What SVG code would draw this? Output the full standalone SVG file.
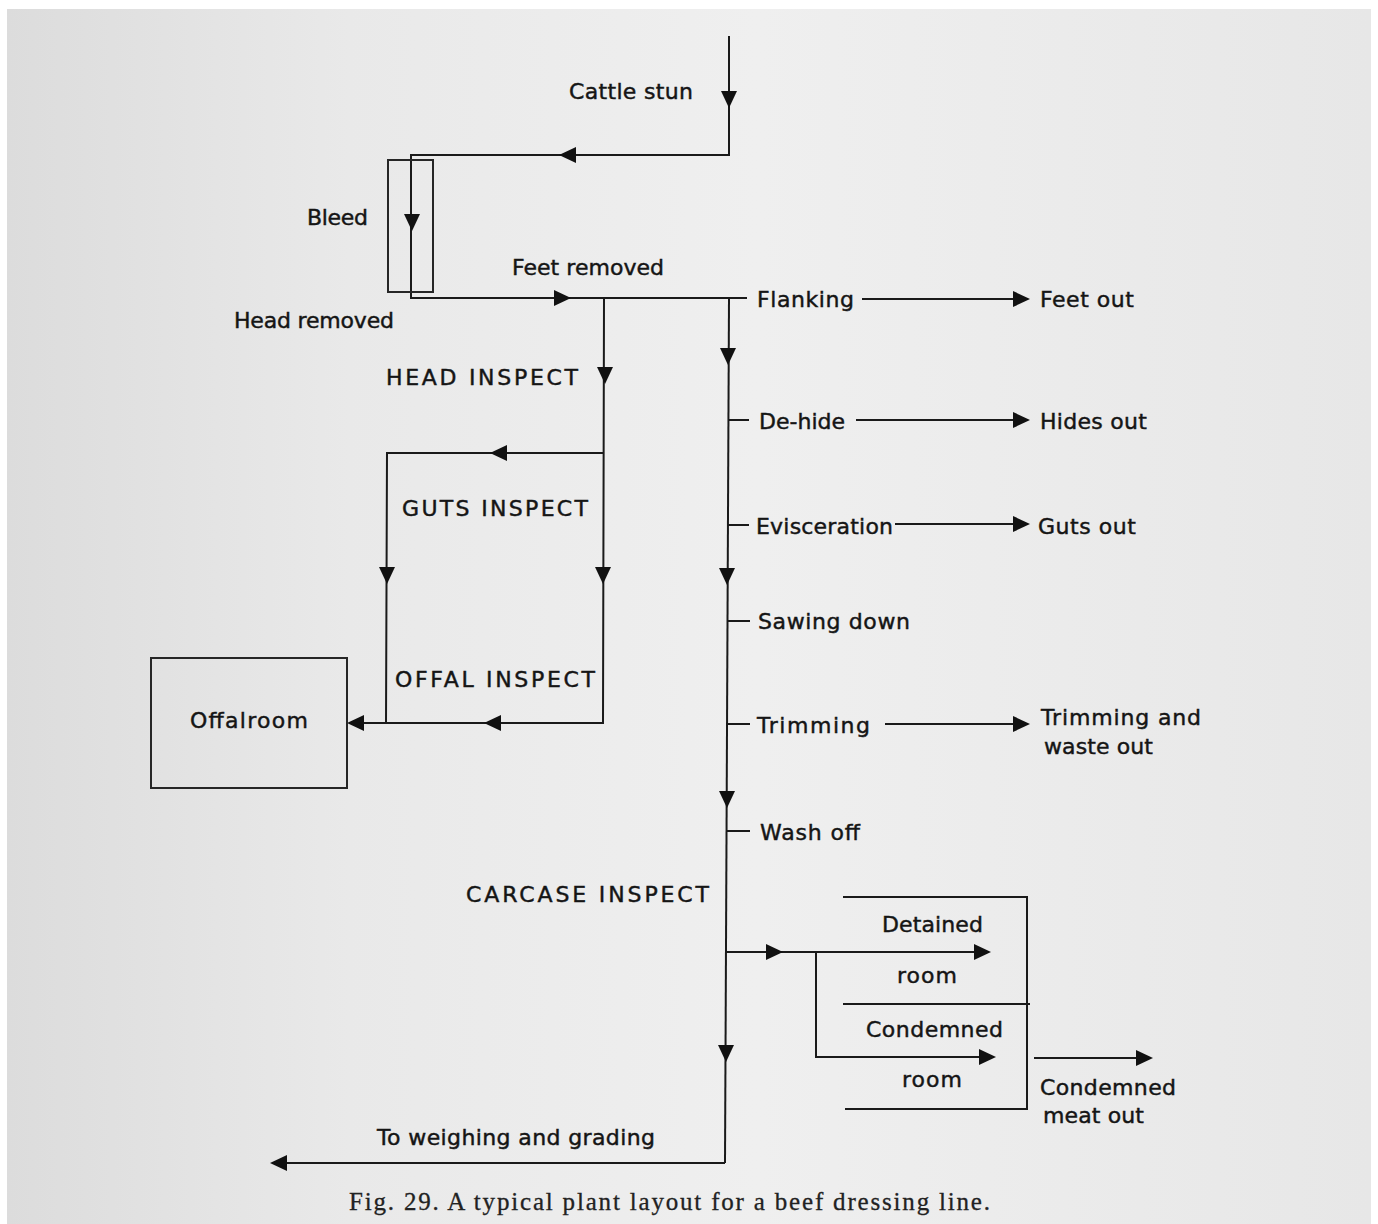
<svg xmlns="http://www.w3.org/2000/svg" xmlns:xlink="http://www.w3.org/1999/xlink" width="1378" height="1224" viewBox="0 0 1378 1224">
<style>
.t{font-family:"DejaVu Sans","Liberation Sans",sans-serif;font-size:22px;fill:#151515;stroke:#151515;stroke-width:0.45}
.cap{font-family:"DejaVu Sans","Liberation Sans",sans-serif;font-size:22px;fill:#151515;stroke:#151515;stroke-width:0.45}
.cap2{font-family:"Liberation Serif",serif;font-size:25px;fill:#222;stroke:#222;stroke-width:0.3}
.ln{stroke:#1a1a1a;stroke-width:2;fill:none}
.box{stroke:#262626;stroke-width:2;fill:none}
.ah{fill:#111}
</style>
<defs>
<linearGradient id="pg" x1="0" y1="0" x2="1" y2="0">
<stop offset="0" stop-color="#dcdcdc"/>
<stop offset="0.25" stop-color="#e9e9e9"/>
<stop offset="0.55" stop-color="#efefef"/>
<stop offset="1" stop-color="#e7e7e7"/>
</linearGradient>
<path id="ah" class="ah" d="M0,0 L-17,-8 L-17,8 Z"/>
</defs>
<rect x="0" y="0" width="1378" height="1224" fill="#ffffff"/>
<rect x="7" y="9" width="1364" height="1215" fill="url(#pg)"/>

<g id="connectors">
<polyline class="ln" points="729,36 729,155 411,155 411,298 747,298"/>
<rect class="box" x="388" y="160" width="45" height="132"/>
<line class="ln" x1="729" y1="298" x2="725" y2="1163"/>
<polyline class="ln" points="725,1163 272,1163"/>
<line class="ln" x1="728" y1="420" x2="749" y2="420"/>
<line class="ln" x1="728" y1="525" x2="749" y2="525"/>
<line class="ln" x1="727" y1="621" x2="750" y2="621"/>
<line class="ln" x1="727" y1="724" x2="750" y2="724"/>
<line class="ln" x1="727" y1="831" x2="750" y2="831"/>
<line class="ln" x1="862" y1="299" x2="1020" y2="299"/>
<line class="ln" x1="856" y1="420" x2="1020" y2="420"/>
<line class="ln" x1="895" y1="524" x2="1020" y2="524"/>
<line class="ln" x1="885" y1="724" x2="1020" y2="724"/>
<polyline class="ln" points="604,298 603,723 349,723"/>
<polyline class="ln" points="603,453 387,453 386,723"/>
<line class="ln" x1="725" y1="952" x2="982" y2="952"/>
<polyline class="ln" points="816,952 816,1057 987,1057"/>
<polyline class="ln" points="843,897 1027,897 1027,1109 845,1109"/>
<line class="ln" x1="843" y1="1004" x2="1030" y2="1004"/>
<line class="ln" x1="1034" y1="1058" x2="1144" y2="1058"/>

<use href="#ah" transform="translate(729,108) rotate(90)"/>
<use href="#ah" transform="translate(559,155) rotate(180)"/>
<use href="#ah" transform="translate(412,231) rotate(90)"/>
<use href="#ah" transform="translate(571,298)"/>
<use href="#ah" transform="translate(605,384) rotate(90)"/>
<use href="#ah" transform="translate(728,365) rotate(90)"/>
<use href="#ah" transform="translate(1030,299)"/>
<use href="#ah" transform="translate(1030,420)"/>
<use href="#ah" transform="translate(1030,524)"/>
<use href="#ah" transform="translate(1030,724)"/>
<use href="#ah" transform="translate(490,453) rotate(180)"/>
<use href="#ah" transform="translate(387,584) rotate(90)"/>
<use href="#ah" transform="translate(603,584) rotate(90)"/>
<use href="#ah" transform="translate(484,723) rotate(180)"/>
<use href="#ah" transform="translate(347,723) rotate(180)"/>
<use href="#ah" transform="translate(727,585) rotate(90)"/>
<use href="#ah" transform="translate(727,808) rotate(90)"/>
<use href="#ah" transform="translate(726,1062) rotate(90)"/>
<use href="#ah" transform="translate(783,952)"/>
<use href="#ah" transform="translate(991,952)"/>
<use href="#ah" transform="translate(996,1057)"/>
<use href="#ah" transform="translate(1153,1058)"/>
<use href="#ah" transform="translate(270,1163) rotate(180)"/>
</g>

<g id="n-cattle-stun"><text class="t" x="569" y="99" textLength="124" lengthAdjust="spacing">Cattle stun</text></g>
<g id="n-bleed"><text class="t" x="307" y="225" textLength="61" lengthAdjust="spacing">Bleed</text></g>
<g id="n-feet-removed"><text class="t" x="512" y="275" textLength="152" lengthAdjust="spacing">Feet removed</text></g>
<g id="n-head-removed"><text class="t" x="234" y="328" textLength="160" lengthAdjust="spacing">Head removed</text></g>
<g id="n-head-inspect"><text class="cap" x="386" y="385" textLength="192" lengthAdjust="spacing">HEAD INSPECT</text></g>
<g id="n-guts-inspect"><text class="cap" x="402" y="516" textLength="186" lengthAdjust="spacing">GUTS INSPECT</text></g>
<g id="n-offal-inspect"><text class="cap" x="395" y="687" textLength="200" lengthAdjust="spacing">OFFAL INSPECT</text></g>
<g id="n-offalroom">
<rect class="box" x="151" y="658" width="196" height="130"/>
<text class="t" x="190" y="728" textLength="118" lengthAdjust="spacing">Offalroom</text>
</g>
<g id="n-flanking"><text class="t" x="757" y="307" textLength="97" lengthAdjust="spacing">Flanking</text></g>
<g id="n-feet-out"><text class="t" x="1040" y="307" textLength="94" lengthAdjust="spacing">Feet out</text></g>
<g id="n-dehide"><text class="t" x="759" y="429" textLength="86" lengthAdjust="spacing">De-hide</text></g>
<g id="n-hides-out"><text class="t" x="1040" y="429" textLength="107" lengthAdjust="spacing">Hides out</text></g>
<g id="n-evisceration"><text class="t" x="756" y="534" textLength="137" lengthAdjust="spacing">Evisceration</text></g>
<g id="n-guts-out"><text class="t" x="1038" y="534" textLength="98" lengthAdjust="spacing">Guts out</text></g>
<g id="n-sawing-down"><text class="t" x="758" y="629" textLength="152" lengthAdjust="spacing">Sawing down</text></g>
<g id="n-trimming"><text class="t" x="757" y="733" textLength="113" lengthAdjust="spacing">Trimming</text></g>
<g id="n-trimming-out">
<text class="t" x="1041" y="725" textLength="160" lengthAdjust="spacing">Trimming and</text>
<text class="t" x="1044" y="754" textLength="109" lengthAdjust="spacing">waste out</text>
</g>
<g id="n-wash-off"><text class="t" x="760" y="840" textLength="100" lengthAdjust="spacing">Wash off</text></g>
<g id="n-carcase-inspect"><text class="cap" x="466" y="902" textLength="243" lengthAdjust="spacing">CARCASE INSPECT</text></g>
<g id="n-detained-room">
<text class="t" x="882" y="932" textLength="101" lengthAdjust="spacing">Detained</text>
<text class="t" x="897" y="983" textLength="60" lengthAdjust="spacing">room</text>
</g>
<g id="n-condemned-room">
<text class="t" x="866" y="1037" textLength="137" lengthAdjust="spacing">Condemned</text>
<text class="t" x="902" y="1087" textLength="60" lengthAdjust="spacing">room</text>
</g>
<g id="n-condemned-out">
<text class="t" x="1040" y="1095" textLength="136" lengthAdjust="spacing">Condemned</text>
<text class="t" x="1043" y="1123" textLength="101" lengthAdjust="spacing">meat out</text>
</g>
<g id="n-weighing"><text class="t" x="377" y="1145" textLength="278" lengthAdjust="spacing">To weighing and grading</text></g>
<g id="caption"><text class="cap2" x="349" y="1210" textLength="641" lengthAdjust="spacing">Fig. 29. A typical plant layout for a beef dressing line.</text></g>
</svg>
